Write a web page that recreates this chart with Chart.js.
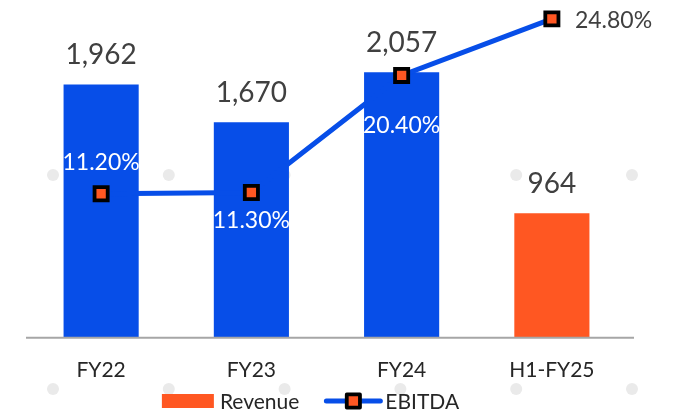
<!DOCTYPE html>
<html><head><meta charset="utf-8">
<script src="https://cdn.jsdelivr.net/npm/chart.js@4.4.1/dist/chart.umd.min.js"></script>
<style>html,body{margin:0;padding:0;background:#fff}#wrap{width:677px;height:411px;position:relative}</style>
</head><body><div id="wrap"><canvas id="c"></canvas></div>
<script>
// ---- data ----
const categories = ['FY22', 'FY23', 'FY24', 'H1-FY25'];
const revenue = [1962, 1670, 2057, 964];
const ebitdaMargin = [11.2, 11.3, 20.4, 24.8];
const revenueLabels = ['1,962', '1,670', '2,057', '964'];
const marginLabels = ['11.20%', '11.30%', '20.40%', '24.80%'];
const seriesNames = ['Revenue', 'EBITDA'];

// ---- styles ----
const BLUE = '#074EE8', ORANGE = '#FF5722', DARK = '#404040', TXT = '#262626';
const barColors = ['#074EE8', '#074EE8', '#074EE8', '#FF5722'];
const marginPlacement = ['above', 'below', 'inside', 'right'];
const FONT = 'Lato, "Open Sans", sans-serif';

function drawMarker(ctx, x, y) {
  ctx.save();
  ctx.lineJoin = 'round';
  ctx.lineWidth = 3.8;
  ctx.strokeStyle = '#000';
  ctx.fillStyle = ORANGE;
  ctx.beginPath();
  ctx.rect(x - 6.6, y - 6.6, 13.2, 13.2);
  ctx.fill();
  ctx.stroke();
  ctx.restore();
}

const decoPlugin = {
  id: 'deco',
  beforeDatasetsDraw(chart) {
    const ctx = chart.ctx;
    const w = chart.width;
    ctx.save();
    ctx.fillStyle = '#EAEAEA';
    const x0 = w * 0.0783, x1 = w * 0.9335;
    [175, 389].forEach(y => {
      for (let i = 0; i < 6; i++) {
        const x = x0 + (x1 - x0) * i / 5;
        ctx.beginPath();
        ctx.arc(x, y, 6, 0, Math.PI * 2);
        ctx.fill();
      }
    });
    ctx.restore();
  },
  afterDatasetsDraw(chart) {
    const ctx = chart.ctx;
    const ca = chart.chartArea;
    const y0 = chart.scales.y.getPixelForValue(0);
    ctx.save();
    ctx.strokeStyle = '#A6A6A6';
    ctx.lineWidth = 2;
    ctx.beginPath();
    ctx.moveTo(ca.left, y0);
    ctx.lineTo(ca.right + 7, y0);
    ctx.stroke();
    ctx.restore();
    const barMeta = chart.getDatasetMeta(1);
    const lineMeta = chart.getDatasetMeta(0);
    ctx.save();
    ctx.textAlign = 'center';
    ctx.textBaseline = 'alphabetic';
    ctx.fillStyle = DARK;
    ctx.font = '28px ' + FONT;
    barMeta.data.forEach((el, i) => {
      ctx.fillText(revenueLabels[i], el.x, el.y - 20);
    });
    ctx.font = '23px ' + FONT;
    lineMeta.data.forEach((el, i) => {
      const p = marginPlacement[i];
      if (p === 'right') {
        ctx.fillStyle = DARK;
        ctx.textAlign = 'left';
        ctx.fillText(marginLabels[i], el.x + 23, el.y + 9);
      } else {
        ctx.fillStyle = '#FFFFFF';
        ctx.textAlign = 'center';
        let yy = el.y - 24;
        if (p === 'below') yy = el.y + 36;
        if (p === 'inside') yy = el.y + 58;
        ctx.fillText(marginLabels[i], el.x, yy);
      }
    });
    ctx.restore();
  },
  afterDraw(chart) {
    const ctx = chart.ctx;
    const ca = chart.chartArea;
    ctx.save();
    ctx.font = '21px ' + FONT;
    ctx.textBaseline = 'middle';
    ctx.textAlign = 'left';
    const w1 = ctx.measureText(seriesNames[0]).width;
    const w2 = ctx.measureText(seriesNames[1]).width;
    const total = 52 + 6 + w1 + 27 + 54 + 5 + w2;
    let x = (ca.left + ca.right) / 2 - 16 - total / 2;
    const y = 401;
    ctx.fillStyle = ORANGE;
    ctx.fillRect(x, y - 7, 52, 14);
    x += 58;
    ctx.fillStyle = TXT;
    ctx.fillText(seriesNames[0], x, y + 1);
    x += w1 + 27;
    ctx.strokeStyle = BLUE;
    ctx.lineWidth = 5;
    ctx.lineCap = 'round';
    ctx.beginPath();
    ctx.moveTo(x, y);
    ctx.lineTo(x + 54, y);
    ctx.stroke();
    drawMarker(ctx, x + 27, y);
    x += 59;
    ctx.fillStyle = TXT;
    ctx.fillText(seriesNames[1], x, y + 1);
    ctx.restore();
  }
};

new Chart(document.getElementById('c'), {
  data: {
    labels: categories,
    datasets: [
      {
        type: 'line',
        label: seriesNames[1],
        data: ebitdaMargin,
        yAxisID: 'y2',
        borderColor: BLUE,
        borderWidth: 5,
        pointStyle: 'rect',
        pointRadius: 9.3,
        pointHoverRadius: 9.3,
        pointBackgroundColor: ORANGE,
        pointBorderColor: '#000',
        pointBorderWidth: 3.8,
        tension: 0,
        clip: false,
        order: 0
      },
      {
        type: 'bar',
        label: seriesNames[0],
        data: revenue,
        yAxisID: 'y',
        backgroundColor: barColors,
        categoryPercentage: 1,
        barPercentage: 0.5,
        order: 1
      }
    ]
  },
  options: {
    responsive: true,
    maintainAspectRatio: false,
    animation: false,
    layout: { padding: { left: 26, right: 50, top: 15, bottom: 8 } },
    plugins: { legend: { display: false }, tooltip: { enabled: false } },
    scales: {
      x: {
        grid: { display: false, drawTicks: false },
        border: { display: false },
        ticks: { color: TXT, font: { family: FONT, size: 21 }, padding: 20 }
      },
      y: { display: false, min: 0, max: 2500 },
      y2: { display: false, min: 0, max: 25.1, position: 'right' }
    }
  },
  plugins: [decoPlugin]
});
</script>
</body></html>
